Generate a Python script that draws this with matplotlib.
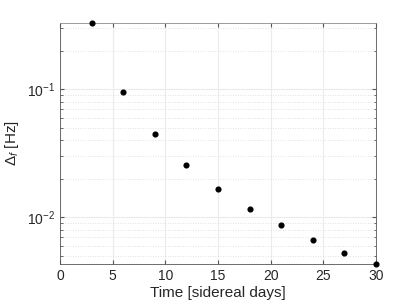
import matplotlib
matplotlib.use("Agg")
import matplotlib.pyplot as plt
from matplotlib.ticker import LogLocator, NullFormatter

plt.rcParams['font.family'] = ['Liberation Sans', 'DejaVu Sans']
plt.rcParams['mathtext.fontset'] = 'custom'
plt.rcParams['mathtext.rm'] = 'Liberation Sans'
plt.rcParams['mathtext.it'] = 'Liberation Sans:italic'

# data
days = [3, 6, 9, 12, 15, 18, 21, 24, 27, 30]
delta_f = [0.328, 0.0948, 0.0445, 0.0255, 0.0166, 0.0116, 0.0087, 0.00665, 0.00526, 0.00432]

fig = plt.figure(figsize=(4.15, 3.06), dpi=100)
ax = fig.add_axes([0.1446, 0.137, 0.7614, 0.788])

ax.plot(days, delta_f, 'o', color='black', markersize=3.4, clip_on=False, zorder=5)

ax.set_yscale('log')
ax.set_xlim(0, 30)
ax.set_ylim(min(delta_f), max(delta_f))
ax.set_xticks(range(0, 31, 5))
ax.yaxis.set_major_locator(LogLocator(base=10, numticks=10))
ax.yaxis.set_minor_locator(LogLocator(base=10, subs=range(2, 10), numticks=10))
ax.yaxis.set_minor_formatter(NullFormatter())

ax.grid(True, which='major', color='#ebebeb', linewidth=0.8, linestyle='-')
ax.grid(True, which='minor', axis='y', color='#d6d6d6', linewidth=0.6, linestyle=(0, (1, 2)))
ax.set_axisbelow(True)

for s in ax.spines.values():
    s.set_color('#555555')
    s.set_linewidth(0.6)
ax.spines['top'].set_color('#8c8c8c')
ax.tick_params(which='both', direction='in', top=True, right=True, colors='#555555',
               labelsize=10, labelcolor='#262626')
ax.tick_params(which='major', length=3)
ax.tick_params(which='minor', length=1.8)

ax.set_xlabel('Time [sidereal days]', fontsize=11, color='#262626', labelpad=2)
ax.set_ylabel(r'$\Delta_f$ [Hz]', fontsize=11, color='#262626')

fig.savefig('out.png', dpi=100)
